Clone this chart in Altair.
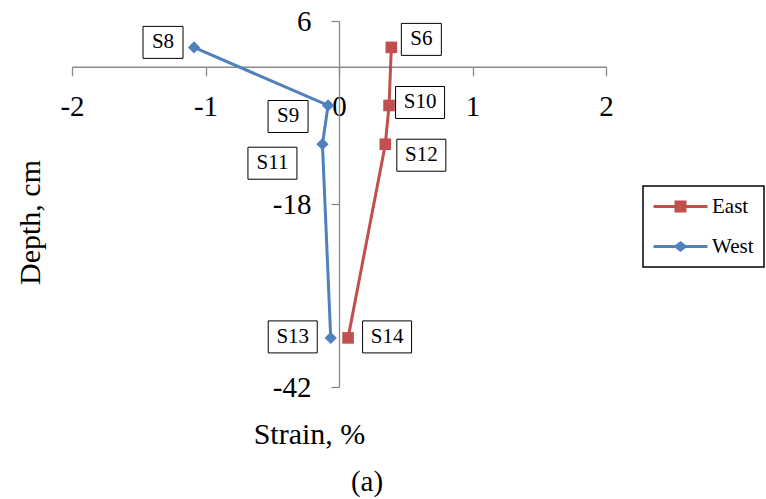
import altair as alt
import pandas as pd

# Strain gauge readings: East and West profiles
labels = ["S6", "S10", "S12", "S14", "S8", "S9", "S11", "S13"]
series = ["East", "East", "East", "East", "West", "West", "West", "West"]
strain = [0.392, 0.375, 0.347, 0.068, -1.086, -0.082, -0.124, -0.062]
depth = [2.54, -5.08, -10.16, -35.56, 2.54, -5.08, -10.16, -35.56]
order = [1, 2, 3, 4, 1, 2, 3, 4]

x_ticks = [-2, -1, 0, 1, 2]
y_ticks = [6, -18, -42]

# Pixel offsets of each callout box from its marker
LABEL_OFFSETS = {
    "S6": (30, -8), "S10": (31, -3), "S12": (36, 11), "S14": (39, -1),
    "S8": (-31, -5), "S9": (-40, 11), "S11": (-50, 19), "S13": (-38, -1),
}

FONT = "Liberation Serif"
RED = "#C0504D"
BLUE = "#4F81BD"
AXIS_GRAY = "#898989"

W, H = 534, 366
X_DOM = [-2, 2]
Y_DOM = [-42, 6]
px_x = W / (X_DOM[1] - X_DOM[0])   # pixels per strain unit
px_y = H / (Y_DOM[1] - Y_DOM[0])   # pixels per cm
y0 = H * Y_DOM[1] / (Y_DOM[1] - Y_DOM[0])   # pixel row of depth = 0
x0 = W * -X_DOM[0] / (X_DOM[1] - X_DOM[0])  # pixel column of strain = 0

df = pd.DataFrame({
    "label": labels, "series": series, "strain": strain,
    "depth": depth, "order": order,
})
# callout centres, shifted from the markers by a fixed number of pixels
df["lx"] = [s + LABEL_OFFSETS[l][0] / px_x for s, l in zip(strain, labels)]
df["ly"] = [d - LABEL_OFFSETS[l][1] / px_y for d, l in zip(depth, labels)]

x_scale = alt.Scale(domain=X_DOM, nice=False, zero=False)
y_scale = alt.Scale(domain=Y_DOM, nice=False, zero=False)

hyphen_labels = "datum.value < 0 ? '-' + abs(datum.value) : '' + datum.value"

x_enc = alt.X("strain:Q", scale=x_scale, axis=alt.Axis(
    values=x_ticks, orient="bottom", offset=-(H - y0), grid=False,
    labelExpr=hyphen_labels, labelFlush=False, labelOverlap=False,
    domainColor=AXIS_GRAY, domainWidth=1.3, tickColor=AXIS_GRAY, tickWidth=1.3,
    tickSize=9, labelPadding=17, labelFont=FONT, labelFontSize=29,
    labelColor="black", title="Strain, %", titleFont=FONT, titleFontSize=30,
    titleFontWeight="normal", titleColor="black", titleX=237, titleY=368,
    titleBaseline="middle", titleAlign="center",
))
y_enc = alt.Y("depth:Q", scale=y_scale, axis=alt.Axis(
    values=y_ticks, orient="left", offset=-x0, grid=False,
    labelExpr=hyphen_labels, labelFlush=False, labelOverlap=False,
    domainColor=AXIS_GRAY, domainWidth=1.3, tickColor=AXIS_GRAY, tickWidth=1.3,
    tickSize=8, labelPadding=20, labelFont=FONT, labelFontSize=29,
    labelColor="black", title="Depth, cm", titleFont=FONT, titleFontSize=30,
    titleFontWeight="normal", titleColor="black", titleX=-309, titleY=201,
    titleAngle=270, titleBaseline="middle", titleAlign="center",
))

color_scale = alt.Scale(domain=["East", "West"], range=[RED, BLUE])

# Legend keys: a line segment with the series marker on it
east_key = ("M-2.7,-0.15L2.7,-0.15L2.7,0.15L-2.7,0.15Z"
            "M-0.6,-0.6L0.6,-0.6L0.6,0.6L-0.6,0.6Z")
west_key = ("M-2.7,-0.15L2.7,-0.15L2.7,0.15L-2.7,0.15Z"
            "M0,-0.55L0.7,0L0,0.55L-0.7,0Z")

base = alt.Chart(df)

lines = base.mark_line(strokeWidth=3).encode(
    x=x_enc, y=y_enc, order="order:Q",
    color=alt.Color("series:N", scale=color_scale),
)

east_pts = base.transform_filter(alt.datum.series == "East").mark_point(
    shape="square", filled=True, size=135, opacity=1, color=RED
).encode(x="strain:Q", y="depth:Q")

west_pts = base.transform_filter(alt.datum.series == "West").mark_point(
    shape="diamond", filled=True, size=150, opacity=1, color=BLUE
).encode(x="strain:Q", y="depth:Q")

legend_layer = base.transform_filter("false").mark_point(filled=True, opacity=1).encode(
    x="strain:Q", y="depth:Q",
    color=alt.Color("series:N", scale=color_scale, title=None),
    shape=alt.Shape("series:N", scale=alt.Scale(domain=["East", "West"],
                                                 range=[east_key, west_key]),
                    title=None),
)

short = base.transform_filter("length(datum.label) <= 2")
long_ = base.transform_filter("length(datum.label) > 2")

box_kw = dict(fill="white", stroke="black", strokeWidth=1, height=32)
box_enc = dict(x="lx:Q", y="ly:Q")
boxes_s = short.mark_rect(width=40, **box_kw).encode(**box_enc)
boxes_l = long_.mark_rect(width=49, **box_kw).encode(**box_enc)

texts = base.mark_text(font=FONT, fontSize=21, color="black",
                       baseline="middle", align="center").encode(
    text="label:N", **box_enc
)

chart = alt.layer(
    lines, east_pts, west_pts, legend_layer, boxes_s, boxes_l, texts
).properties(
    width=W, height=H,
    background="white",
    autosize=alt.AutoSizeParams(type="none"),
    padding={"left": 72, "top": 21, "right": 766 - 72 - W, "bottom": 499 - 21 - H},
    title=alt.TitleParams("(a)", orient="bottom", font=FONT, fontSize=29,
                          fontWeight="normal", color="black", dx=28, offset=18),
).configure_view(strokeWidth=0).configure_axis(grid=False).configure_legend(
    orient="none", legendX=571, legendY=165,
    strokeColor="black", strokeWidth=1.5, fillColor="white",
    padding=10, rowPadding=18, symbolSize=400, symbolOffset=17,
    labelFont=FONT, labelFontSize=21, labelColor="black", labelOffset=21,
    symbolStrokeWidth=0,
)

chart.save("out.html", embed_options={"renderer": "svg", "actions": False})
